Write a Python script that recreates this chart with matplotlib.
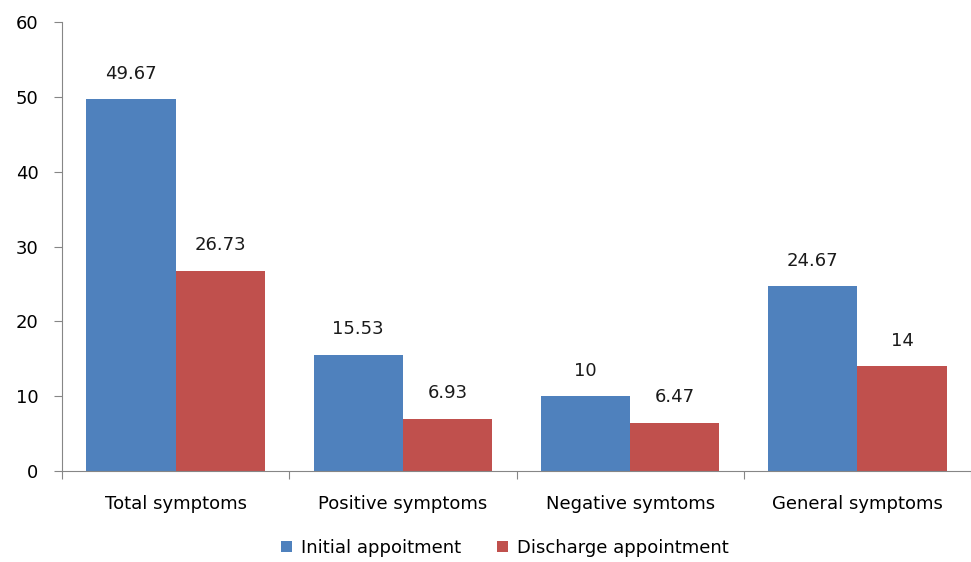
import numpy as np
import matplotlib.pyplot as plt

categorias = ["Total symptoms", "Positive symptoms", "Negative symtoms", "General symptoms"]
inicial = [49.67, 15.53, 10, 24.67]
alta = [26.73, 6.93, 6.47, 14]
etiquetas_ini = ["49.67", "15.53", "10", "24.67"]
etiquetas_alta = ["26.73", "6.93", "6.47", "14"]

azul = "#4F81BD"
rojo = "#C0504D"
gris = "#868686"

fig = plt.figure(figsize=(9.71, 5.62), dpi=100)
ax = fig.add_axes([62/971, 1-471/562, 1-62/971, (471-22)/562])

x = np.arange(len(categorias))
ancho = 0.393

b1 = ax.bar(x - ancho/2, inicial, ancho, color=azul, label="Initial appoitment")
b2 = ax.bar(x + ancho/2, alta, ancho, color=rojo, label="Discharge appointment")

for barras, textos in ((b1, etiquetas_ini), (b2, etiquetas_alta)):
    for b, t in zip(barras, textos):
        ax.annotate(t, (b.get_x() + b.get_width()/2, b.get_height()),
                    xytext=(0, 12), textcoords="offset points",
                    ha="center", va="bottom", fontsize=13, color="#1a1a1a")

ax.set_ylim(0, 60)
ax.set_yticks(range(0, 61, 10))
ax.set_xlim(-0.5, -0.5 + (971-62)/229)

# ticks entre categorias
ax.set_xticks(np.arange(-0.5, 4, 1))
ax.set_xticklabels([])
ax.set_xticks(x, minor=True)
ax.set_xticklabels(categorias, minor=True, fontsize=13)
ax.tick_params(axis="x", which="minor", length=0, pad=17)
ax.tick_params(axis="x", which="major", length=6, color=gris, direction="out")
ax.tick_params(axis="y", length=6, color=gris, labelsize=13, pad=11)

for lado in ("top", "right"):
    ax.spines[lado].set_visible(False)
ax.spines["left"].set_color(gris)
ax.spines["bottom"].set_color(gris)

fig.legend(loc="lower center", ncol=2, frameon=False, fontsize=13,
           handlelength=0.6, handleheight=0.6, columnspacing=2.0,
           handletextpad=0.5, bbox_to_anchor=(0.52, -0.02))

fig.savefig("out.png", dpi=100)
